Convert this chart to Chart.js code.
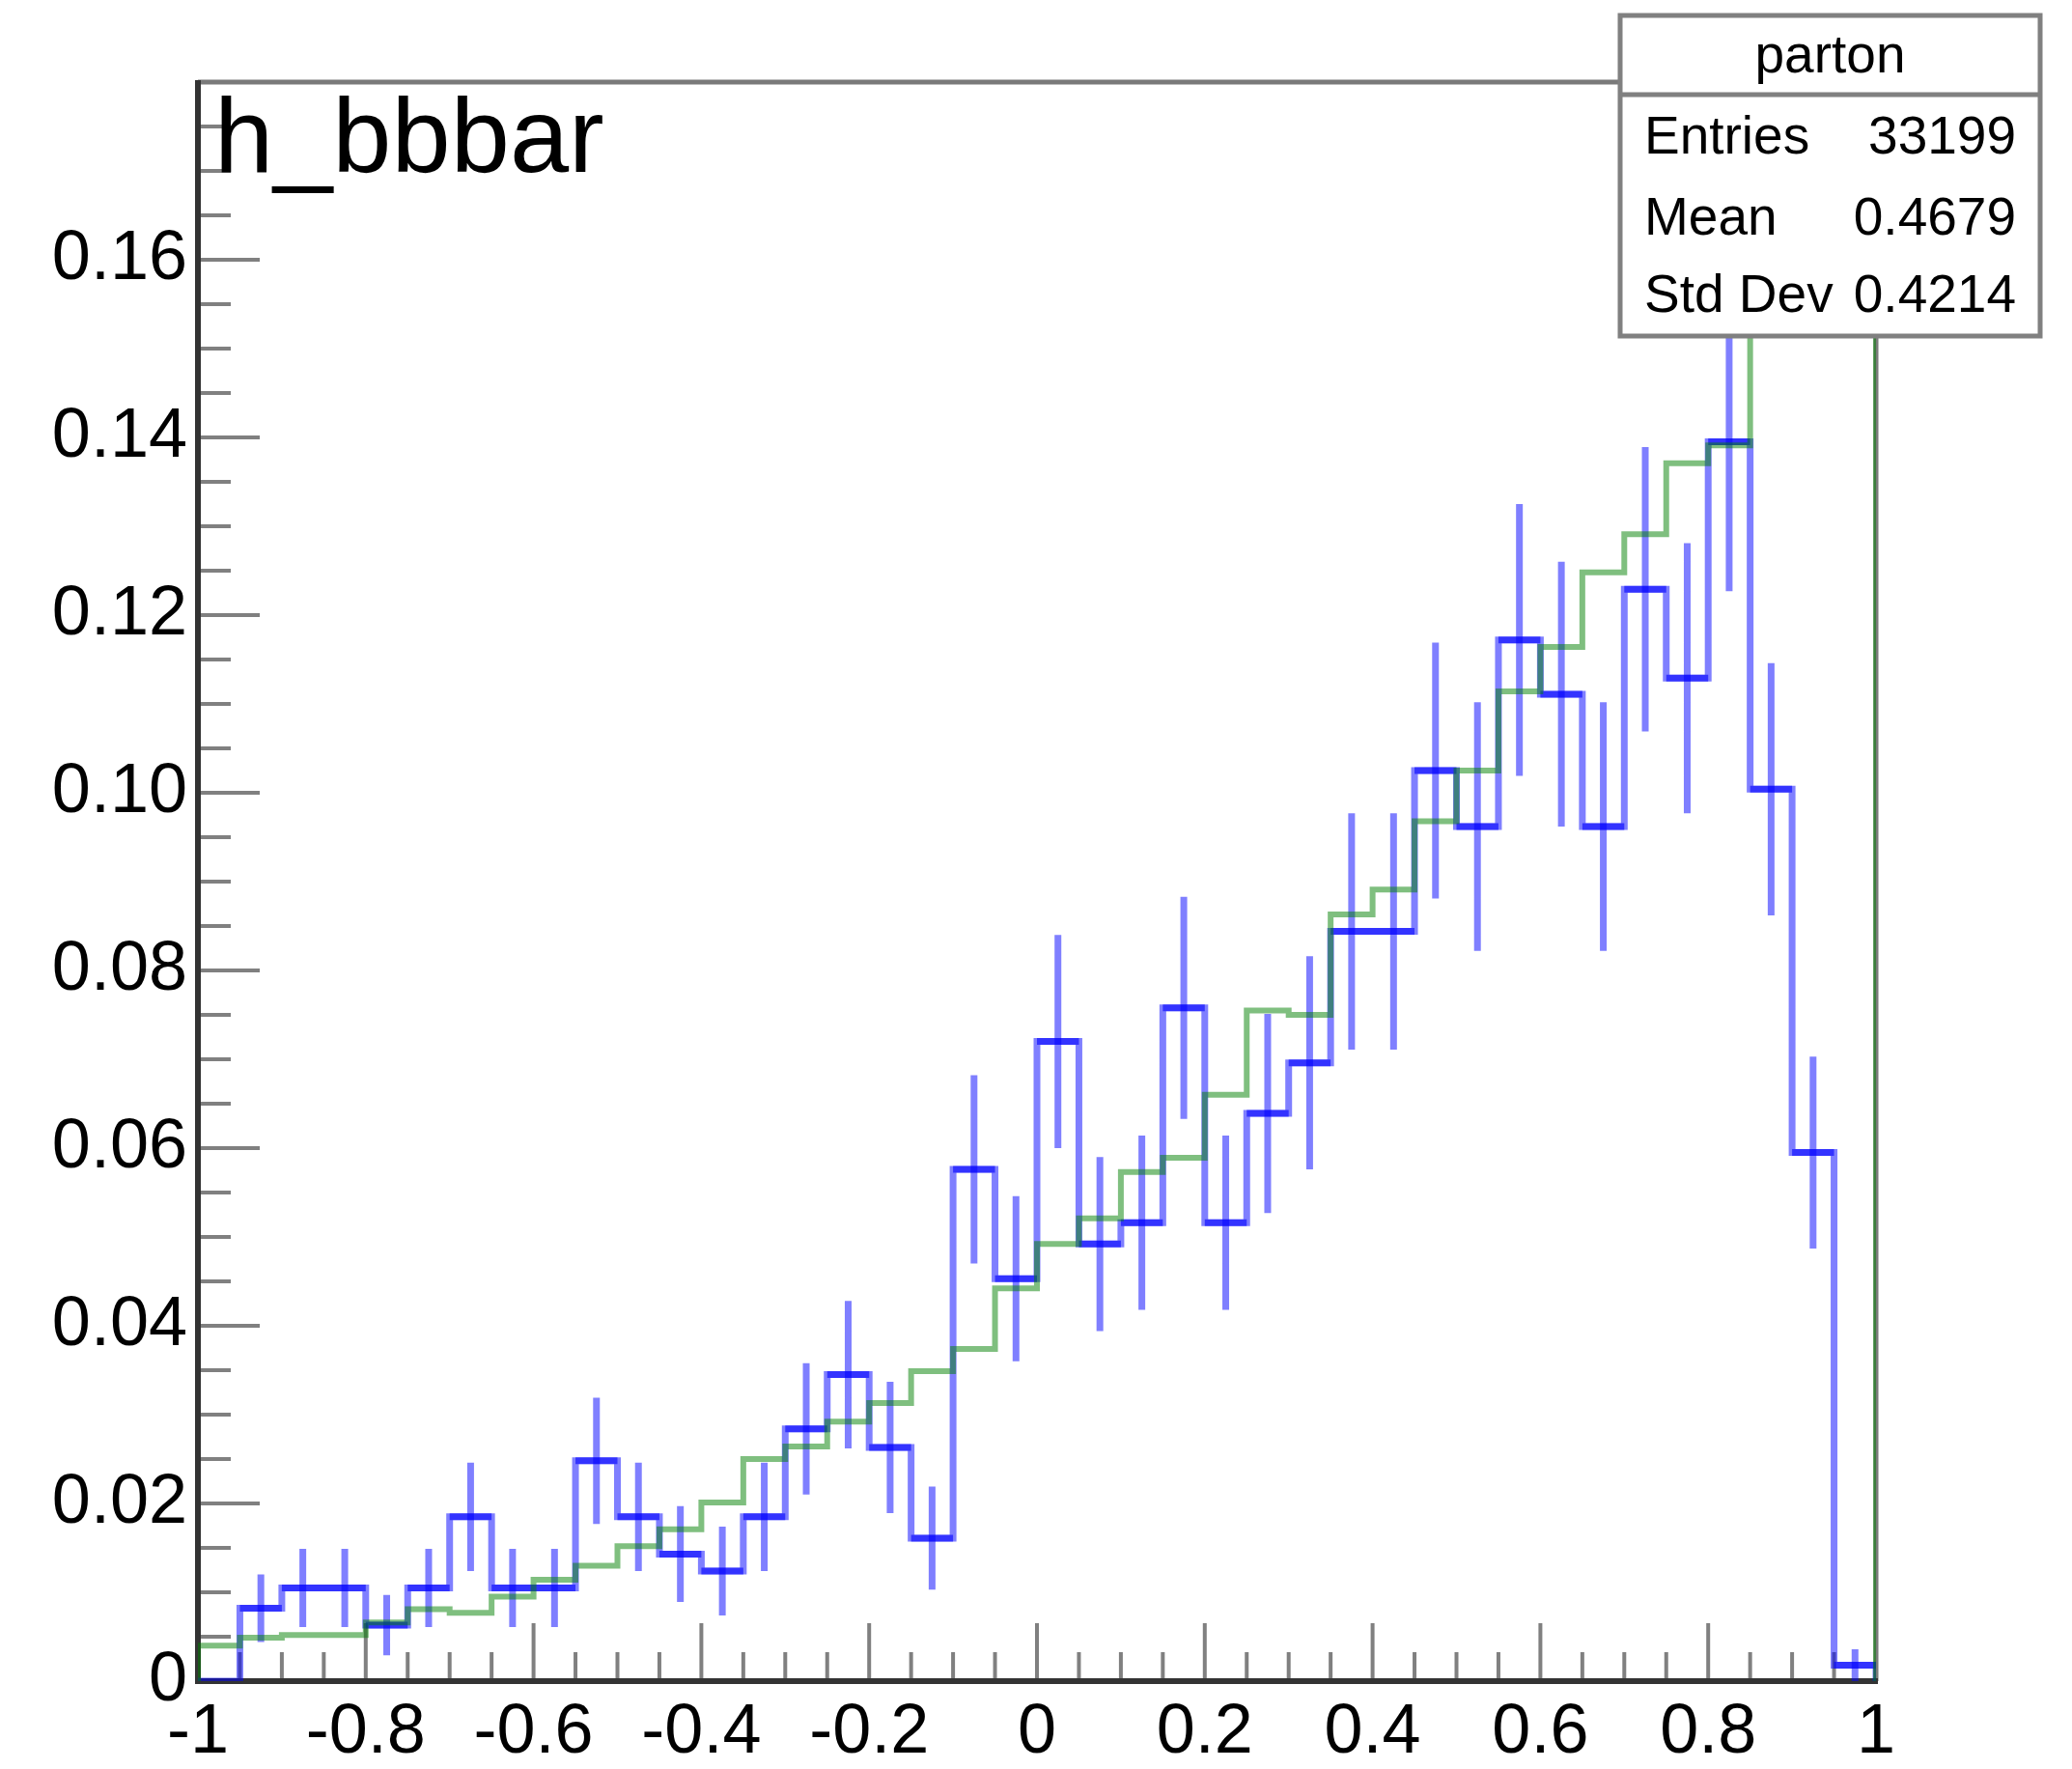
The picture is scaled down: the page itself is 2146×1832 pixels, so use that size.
<!DOCTYPE html>
<html lang="en">
<head>
<meta charset="UTF-8">
<title>h_bbbar</title>
<script src="https://cdn.jsdelivr.net/npm/chart.js"></script>
<style>
  html, body { margin: 0; padding: 0; background: #fff; }
  #wrap { width: 2146px; height: 1832px; }
</style>
</head>
<body>
<div id="wrap"><canvas id="hist" width="2146" height="1832"></canvas></div>
<script>
// bin edges of the histogram (40 bins from -1 to 1)
const binEdges = [-1, -0.95, -0.9, -0.85, -0.8, -0.75, -0.7, -0.65, -0.6, -0.55,
                  -0.5, -0.45, -0.4, -0.35, -0.3, -0.25, -0.2, -0.15, -0.1, -0.05,
                  0, 0.05, 0.1, 0.15, 0.2, 0.25, 0.3, 0.35, 0.4, 0.45,
                  0.5, 0.55, 0.6, 0.65, 0.7, 0.75, 0.8, 0.85, 0.9, 0.95, 1];

// "parton" histogram (blue, with errors)
const partonValues = [0, 0.0082, 0.0105, 0.0105, 0.0063, 0.0105, 0.0185, 0.0105, 0.0105, 0.0248,
                      0.0185, 0.0143, 0.0124, 0.0185, 0.0284, 0.0345, 0.0263, 0.0161, 0.0576, 0.0453,
                      0.0720, 0.0492, 0.0516, 0.0758, 0.0516, 0.0639, 0.0696, 0.0844, 0.0844, 0.1025,
                      0.0962, 0.1172, 0.1111, 0.0962, 0.1229, 0.1129, 0.1395, 0.1004, 0.0595, 0.0018];
const partonErrors = [0, 0.0038, 0.0044, 0.0044, 0.0034, 0.0044, 0.0061, 0.0044, 0.0044, 0.0071,
                      0.0061, 0.0054, 0.0050, 0.0061, 0.0074, 0.0083, 0.0074, 0.0058, 0.0106, 0.0093,
                      0.0120, 0.0098, 0.0098, 0.0125, 0.0098, 0.0112, 0.0120, 0.0133, 0.0133, 0.0144,
                      0.0140, 0.0153, 0.0149, 0.0140, 0.0160, 0.0152, 0.0168, 0.0142, 0.0108, 0.0018];

// green reference histogram (last bins hidden under the stats box)
const greenValues = [0.0040, 0.0049, 0.0052, 0.0052, 0.0066, 0.0081, 0.0077, 0.0095, 0.0114, 0.0130,
                     0.0152, 0.0171, 0.0201, 0.0250, 0.0264, 0.0292, 0.0313, 0.0349, 0.0374, 0.0442,
                     0.0492, 0.0521, 0.0573, 0.0589, 0.0660, 0.0755, 0.0750, 0.0863, 0.0891, 0.0968,
                     0.1025, 0.1114, 0.1164, 0.1248, 0.1291, 0.1371, 0.1391, 0.158, 0.164, 0.168];

const xTickValues = [-1, -0.8, -0.6, -0.4, -0.2, 0, 0.2, 0.4, 0.6, 0.8, 1];
const xTickLabels = ['-1', '-0.8', '-0.6', '-0.4', '-0.2', '0', '0.2', '0.4', '0.6', '0.8', '1'];
const yTickValues = [0, 0.02, 0.04, 0.06, 0.08, 0.10, 0.12, 0.14, 0.16];
const yTickLabels = ['0', '0.02', '0.04', '0.06', '0.08', '0.10', '0.12', '0.14', '0.16'];

const histTitle = 'h_bbbar';
const statsTitle = 'parton';
const statsRows = [['Entries', '33199'], ['Mean', '0.4679'], ['Std Dev', '0.4214']];

const FONT = '"Liberation Sans", Arial, Helvetica, sans-serif';

function outline(vals) {
    const pts = [{x: binEdges[0], y: 0}];
    vals.forEach((v, i) => {
        pts.push({x: binEdges[i], y: v}, {x: binEdges[i + 1], y: v});
    });
    pts.push({x: binEdges[binEdges.length - 1], y: 0});
    return pts;
}

function errorBars(vals, errs) {
    const pts = [];
    vals.forEach((v, i) => {
        if (!errs[i]) return;
        const c = (binEdges[i] + binEdges[i + 1]) / 2;
        pts.push({x: c, y: v - errs[i]}, {x: c, y: v + errs[i]}, {x: c, y: null});
    });
    return pts;
}

function binMarks(vals, errs) {
    const pts = [];
    vals.forEach((v, i) => {
        if (!errs[i]) return;
        pts.push({x: binEdges[i], y: v}, {x: binEdges[i + 1], y: v}, {x: binEdges[i + 1], y: null});
    });
    return pts;
}

// ROOT style frame with ticks pointing inwards
const rootFrame = {
    id: 'rootFrame',
    beforeDatasetsDraw(chart) {
        const {ctx, chartArea: a, scales: {x, y}} = chart;
        ctx.save();
        ctx.lineCap = 'butt';
        ctx.strokeStyle = '#808080';
        ctx.lineWidth = 4;
        ctx.beginPath();
        for (let k = 0; k <= 40; k++) {
            const px = x.getPixelForValue(-1 + k * 0.05);
            const len = k % 4 === 0 ? 60 : 30;
            ctx.moveTo(px, a.bottom);
            ctx.lineTo(px, a.bottom - len);
        }
        for (let k = 0; k <= 36; k++) {
            const py = y.getPixelForValue(k * 0.005);
            const len = k % 4 === 0 ? 64 : 34;
            ctx.moveTo(a.left, py);
            ctx.lineTo(a.left + len, py);
        }
        ctx.stroke();

        // top and right of the frame
        ctx.strokeStyle = '#7a7a7a';
        ctx.lineWidth = 5;
        ctx.beginPath();
        ctx.moveTo(a.left, a.top);
        ctx.lineTo(a.right, a.top);
        ctx.lineTo(a.right, a.bottom);
        ctx.stroke();

        // axes
        ctx.strokeStyle = '#333333';
        ctx.lineWidth = 6;
        ctx.beginPath();
        ctx.moveTo(a.left, a.top - 2);
        ctx.lineTo(a.left, a.bottom);
        ctx.lineTo(a.right + 2, a.bottom);
        ctx.stroke();
        ctx.restore();
    },
    afterDraw(chart) {
        const {ctx} = chart;
        ctx.save();
        // histogram title
        ctx.fillStyle = '#000';
        ctx.font = '110px ' + FONT;
        ctx.textAlign = 'left';
        ctx.textBaseline = 'alphabetic';
        ctx.fillText(histTitle, 222, 178);

        // stats box
        const bx = 1678, by = 16, bw = 435, bh = 332;
        ctx.fillStyle = '#fff';
        ctx.fillRect(bx, by, bw, bh);
        ctx.strokeStyle = '#808080';
        ctx.lineWidth = 5;
        ctx.strokeRect(bx, by, bw, bh);
        ctx.beginPath();
        ctx.moveTo(bx, 98);
        ctx.lineTo(bx + bw, 98);
        ctx.stroke();

        ctx.fillStyle = '#000';
        ctx.font = '55px ' + FONT;
        ctx.textAlign = 'center';
        ctx.fillText(statsTitle, bx + bw / 2, 75);
        const baselines = [159, 243, 323];
        statsRows.forEach((row, i) => {
            ctx.textAlign = 'left';
            ctx.fillText(row[0], 1703, baselines[i]);
            ctx.textAlign = 'right';
            ctx.fillText(row[1], 2088, baselines[i]);
        });
        ctx.restore();
    }
};

new Chart(document.getElementById('hist').getContext('2d'), {
    type: 'line',
    data: {
        datasets: [
            {
                label: 'reference',
                data: outline(greenValues),
                borderColor: 'rgba(0, 128, 0, 0.5)',
                borderWidth: 6,
                pointRadius: 0,
                tension: 0
            },
            {
                label: 'parton',
                data: outline(partonValues),
                borderColor: 'rgba(0, 0, 255, 0.5)',
                borderWidth: 7,
                pointRadius: 0,
                tension: 0
            },
            {
                label: 'parton bins',
                data: binMarks(partonValues, partonErrors),
                borderColor: 'rgba(0, 0, 255, 0.6)',
                borderWidth: 7,
                pointRadius: 0,
                spanGaps: false,
                tension: 0
            },
            {
                label: 'parton errors',
                data: errorBars(partonValues, partonErrors),
                borderColor: 'rgba(0, 0, 255, 0.5)',
                borderWidth: 7,
                pointRadius: 0,
                spanGaps: false,
                tension: 0
            }
        ]
    },
    options: {
        responsive: false,
        devicePixelRatio: 1,
        animation: false,
        layout: {padding: {top: 85, right: 203, left: 0, bottom: 0}},
        plugins: {
            legend: {display: false},
            tooltip: {enabled: false},
            title: {display: false}
        },
        scales: {
            x: {
                type: 'linear',
                min: -1,
                max: 1,
                afterBuildTicks: s => { s.ticks = xTickValues.map(v => ({value: v})); },
                afterFit: s => { s.height = 91; },
                grid: {display: false, drawTicks: false, tickLength: 0},
                border: {display: false},
                ticks: {
                    autoSkip: false,
                    maxRotation: 0,
                    padding: 18,
                    color: '#000',
                    font: {family: FONT, size: 72, lineHeight: 1},
                    callback: (v, i) => xTickLabels[i]
                }
            },
            y: {
                type: 'linear',
                min: 0,
                max: 0.18,
                afterBuildTicks: s => { s.ticks = yTickValues.map(v => ({value: v})); },
                afterFit: s => { s.width = 205; },
                grid: {display: false, drawTicks: false, tickLength: 0},
                border: {display: false},
                ticks: {
                    padding: 11,
                    color: '#000',
                    font: {family: FONT, size: 72, lineHeight: 1},
                    callback: (v, i) => yTickLabels[i]
                }
            }
        }
    },
    plugins: [rootFrame]
});
</script>
</body>
</html>
